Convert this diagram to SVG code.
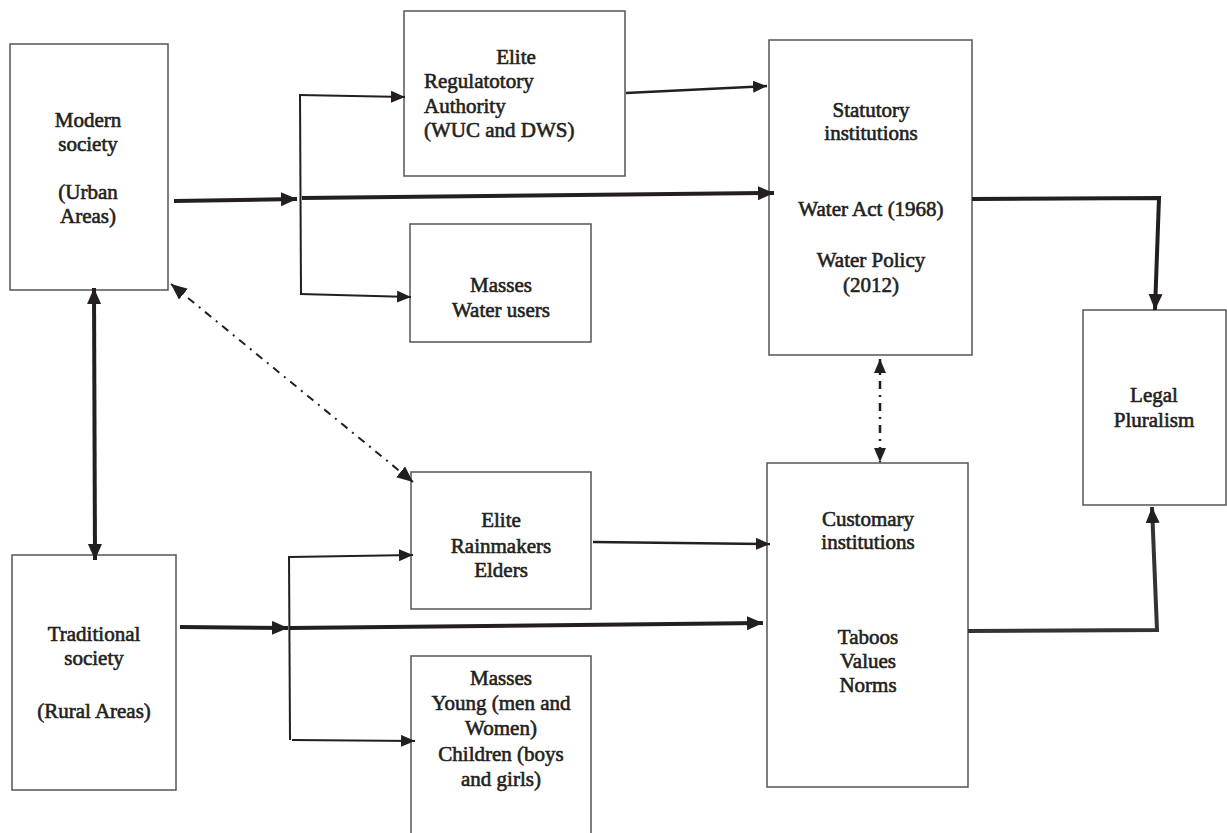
<svg xmlns="http://www.w3.org/2000/svg" width="1227" height="833" viewBox="0 0 1227 833">
<style>
.box{fill:#fff;stroke:#555;stroke-width:1.5}
.t{font-family:'Liberation Serif','Times New Roman','DejaVu Serif',serif;font-size:21px;fill:#231f20;stroke:#231f20;stroke-width:0.6;text-anchor:middle}
.tl{text-anchor:start}
.c{fill:none;stroke:#231f20;stroke-linecap:butt;stroke-linejoin:miter}
.thick{stroke-width:4}
.mid{stroke-width:2.5}
.thin{stroke-width:2}
.dd{stroke-dasharray:8 6 2 6}
</style>
<defs>
<marker id="ah" markerUnits="userSpaceOnUse" markerWidth="18" markerHeight="16" refX="16" refY="7" orient="auto-start-reverse">
<path d="M0,0 L16,7 L0,14 z" fill="#231f20"/>
</marker>
<marker id="ahs" markerUnits="userSpaceOnUse" markerWidth="16" markerHeight="14" refX="14" refY="6" orient="auto-start-reverse">
<path d="M0,0 L14,6 L0,12 z" fill="#231f20"/>
</marker>
</defs>
<rect width="1227" height="833" fill="#fff"/>

<g id="modern">
<rect class="box" x="10" y="44" width="158" height="246"/>
<text class="t" x="88" y="127">Modern</text>
<text class="t" x="88" y="151">society</text>
<text class="t" x="88" y="199">(Urban</text>
<text class="t" x="88" y="223">Areas)</text>
</g>

<g id="elite-reg">
<rect class="box" x="404" y="11" width="221" height="165"/>
<text class="t" x="516" y="64">Elite</text>
<text class="t tl" x="424" y="88">Regulatotory</text>
<text class="t tl" x="424" y="113">Authority</text>
<text class="t tl" x="424" y="137">(WUC and DWS)</text>
</g>

<g id="masses-water">
<rect class="box" x="410" y="224" width="181" height="118"/>
<text class="t" x="501" y="292">Masses</text>
<text class="t" x="501" y="317">Water users</text>
</g>

<g id="statutory">
<rect class="box" x="769" y="40" width="203" height="315"/>
<text class="t" x="871" y="117">Statutory</text>
<text class="t" x="871" y="140">institutions</text>
<text class="t" x="871" y="216">Water Act (1968)</text>
<text class="t" x="871" y="267">Water Policy</text>
<text class="t" x="871" y="292">(2012)</text>
</g>

<g id="legal">
<rect class="box" x="1083" y="310" width="143" height="195"/>
<text class="t" x="1154" y="402">Legal</text>
<text class="t" x="1154" y="427">Pluralism</text>
</g>

<g id="elite-rain">
<rect class="box" x="411" y="472" width="180" height="137"/>
<text class="t" x="501" y="527">Elite</text>
<text class="t" x="501" y="553">Rainmakers</text>
<text class="t" x="501" y="577">Elders</text>
</g>

<g id="masses-young">
<rect class="box" x="411" y="656" width="180" height="190"/>
<text class="t" x="501" y="685">Masses</text>
<text class="t" x="501" y="710">Young (men and</text>
<text class="t" x="501" y="735">Women)</text>
<text class="t" x="501" y="761">Children (boys</text>
<text class="t" x="501" y="786">and girls)</text>
</g>

<g id="traditional">
<rect class="box" x="12" y="555" width="164" height="235"/>
<text class="t" x="94" y="641">Traditional</text>
<text class="t" x="94" y="665">society</text>
<text class="t" x="94" y="718">(Rural Areas)</text>
</g>

<g id="customary">
<rect class="box" x="767" y="463" width="201" height="324"/>
<text class="t" x="868" y="526">Customary</text>
<text class="t" x="868" y="549">institutions</text>
<text class="t" x="868" y="644">Taboos</text>
<text class="t" x="868" y="668">Values</text>
<text class="t" x="868" y="692">Norms</text>
</g>

<g id="connectors">
<line class="c thick" x1="174" y1="201" x2="297" y2="199" marker-end="url(#ah)"/>
<line class="c thin" x1="300" y1="94" x2="301" y2="295"/>
<line class="c thin" x1="299" y1="95" x2="405" y2="97" marker-end="url(#ahs)"/>
<line class="c thin" x1="300" y1="294" x2="411" y2="297" marker-end="url(#ahs)"/>
<line class="c thick" x1="302" y1="198" x2="774" y2="193" marker-end="url(#ah)"/>
<line class="c mid" x1="626" y1="93" x2="767" y2="86" marker-end="url(#ahs)"/>
<polyline class="c thick" points="972,199 1159,198 1155,310" marker-end="url(#ah)"/>
<line class="c mid dd" x1="880" y1="359" x2="880" y2="462" marker-start="url(#ahs)" marker-end="url(#ahs)"/>
<line class="c thin dd" x1="171" y1="284" x2="413" y2="482" marker-start="url(#ah)" marker-end="url(#ah)"/>
<line class="c thick" x1="94" y1="288" x2="95" y2="560" marker-start="url(#ah)" marker-end="url(#ah)"/>
<line class="c thick" x1="180" y1="627" x2="288" y2="628" marker-end="url(#ah)"/>
<line class="c thin" x1="289" y1="556" x2="290" y2="740"/>
<line class="c thin" x1="290" y1="557" x2="413" y2="555" marker-end="url(#ahs)"/>
<line class="c thin" x1="292" y1="740" x2="415" y2="741" marker-end="url(#ahs)"/>
<line class="c thick" x1="290" y1="628" x2="763" y2="623" marker-end="url(#ah)"/>
<line class="c mid" x1="593" y1="542" x2="770" y2="544" marker-end="url(#ahs)"/>
<polyline class="c thick" points="968,631 1157,630 1152,507" marker-end="url(#ah)" style="stroke:#333"/>
</g>
</svg>
